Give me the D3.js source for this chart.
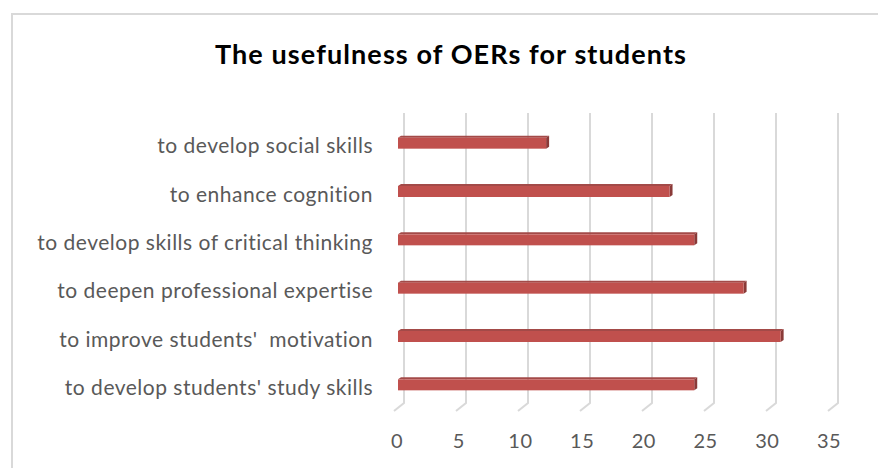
<!DOCTYPE html>
<html><head><meta charset="utf-8">
<script src="https://cdn.jsdelivr.net/npm/d3@7"></script>
<style>body{margin:0;background:#fff}svg{display:block}</style>
</head><body><div id="c"></div>
<script>
const categories = ["to develop social skills","to enhance cognition","to develop skills of critical thinking","to deepen professional expertise","to improve students'  motivation","to develop students' study skills"];
const values = [12,22,24,28,31,24];
const ticks = [0,5,10,15,20,25,30,35];
const title = "The usefulness of OERs for students";

const W=878,H=468;
const svg=d3.select("#c").append("svg").attr("width",W).attr("height",H);
svg.append("rect").attr("width",W).attr("height",H).attr("fill","#fff");
svg.append("path").attr("d",`M12,${H+5}V14H${W+5}`).attr("fill","none").attr("stroke","#d9d9d9").attr("stroke-width",2);

svg.append("text").attr("x",451).attr("y",64).attr("text-anchor","middle")
  .style("font-family","Lato, 'Open Sans', sans-serif").style("font-weight","bold").style("font-size","27px")
  .style("letter-spacing","1.1px").style("white-space","pre").attr("fill","#000").text(title);

const xBack=d3.scaleLinear().domain([0,35]).range([404,838]);
const xFront=d3.scaleLinear().domain([0,35]).range([398,830]);
const y=d3.scaleBand().domain(categories).range([118,408]).padding(0);
const gTop=113,floor=403,ddx=-10,ddy=8;

const g=svg.append("g");
g.selectAll(".grid").data(ticks).join("path")
 .attr("d",t=>`M${xBack(t)},${gTop}V${floor}l${ddx},${ddy}`)
 .attr("fill","none").attr("stroke","#d9d9d9").attr("stroke-width",2);

g.selectAll(".tl").data(ticks).join("text")
 .attr("x",t=>xFront(t)-1).attr("y",448).attr("text-anchor","middle")
 .style("font-family","Lato, 'Open Sans', sans-serif").style("font-size","20px").style("letter-spacing","0.5px")
 .attr("fill","#595959").text(t=>t);

g.selectAll(".cl").data(categories).join("text")
 .attr("x",373).attr("y",c=>y(c)+y.bandwidth()/2+11).attr("text-anchor","end")
 .style("font-family","Lato, 'Open Sans', sans-serif").style("font-size","21px").style("letter-spacing","0.5px")
 .style("white-space","pre").attr("fill","#595959").text(c=>c);

const bh=11, dx=3, dy=-2;
const bars=g.selectAll(".bar").data(categories.map((c,i)=>({c,v:values[i]}))).join("g");
bars.each(function(d){
  const s=d3.select(this);
  const x0=xFront(0), x1=xFront(d.v);
  const yc=y(d.c)+y.bandwidth()/2;
  const y0=yc-bh/2+1;
  s.append("path").attr("d",`M${x0},${y0}L${x0+dx},${y0+dy}L${x1+dx},${y0+dy}L${x1},${y0}Z`).attr("fill","#a34a48");
  s.append("path").attr("d",`M${x1},${y0}L${x1+dx},${y0+dy}L${x1+dx},${y0+dy+bh}L${x1},${y0+bh}Z`).attr("fill","#8a3a38");
  s.append("rect").attr("x",x0).attr("y",y0).attr("width",x1-x0).attr("height",bh).attr("fill","#c0504d");
});
</script></body></html>
